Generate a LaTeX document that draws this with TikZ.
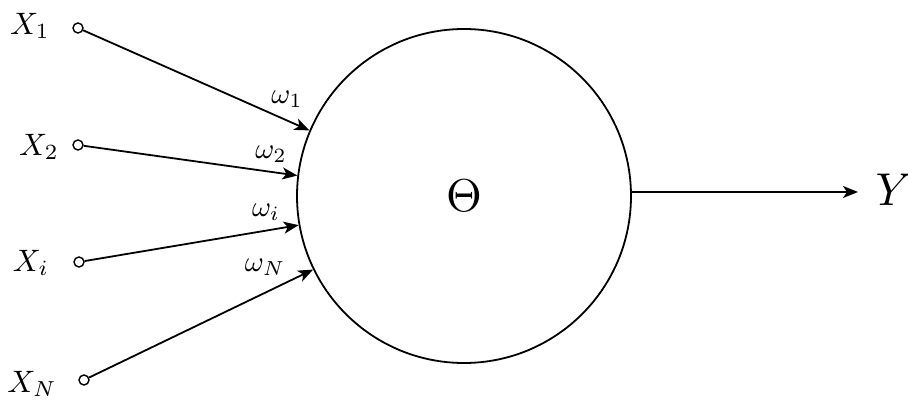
\documentclass[tikz,border=0pt]{standalone}
\usetikzlibrary{arrows.meta}
\begin{document}
\begin{tikzpicture}[x=1pt,y=-1pt,
  wire/.style={line width=1.8pt,-{Stealth[length=15pt,width=12pt,inset=4pt]}},
  inp/.style={circle,draw,line width=1.4pt,minimum size=10pt,inner sep=0pt},
  lbl/.style={inner sep=0pt,scale=3.1},
  wlbl/.style={inner sep=0pt,scale=2.9}]
\useasboundingbox (0,0) rectangle (908,414);
\node[circle,draw,line width=1.8pt,minimum size=334pt,inner sep=0pt] (neuron) at (464,196) {};
\node[inner sep=0pt,scale=4.6] (theta) at (neuron.center) {$\Theta$};
\node[inp] (x1) at (78,28) {};
\node[inp] (x2) at (78,145) {};
\node[inp] (xi) at (79,262) {};
\node[inp] (xn) at (84,380) {};
\node[lbl] (l1) at (30,26) {$X_1$};
\node[lbl] (l2) at (39,147) {$X_2$};
\node[lbl] (li) at (31,263) {$X_i$};
\node[lbl] (ln) at (32,384) {$X_N$};
\draw[wire] (x1) -- (neuron.157);
\draw[wire] (x2) -- (neuron.173.5);
\draw[wire] (xi) -- (neuron.190);
\draw[wire] (xn) -- (neuron.206);
\node[wlbl] (w1) at (287,99) {$\omega_1$};
\node[wlbl] (w2) at (271,154) {$\omega_2$};
\node[wlbl] (wi) at (266,212) {$\omega_i$};
\node[wlbl] (wn) at (265,267) {$\omega_N$};
\node[inner sep=0pt,scale=4.6] (y) at (894,190) {$Y$};
\coordinate (yend) at (858,192);
\draw[wire] (neuron.east |- yend) -- (yend);
\end{tikzpicture}
\end{document}
